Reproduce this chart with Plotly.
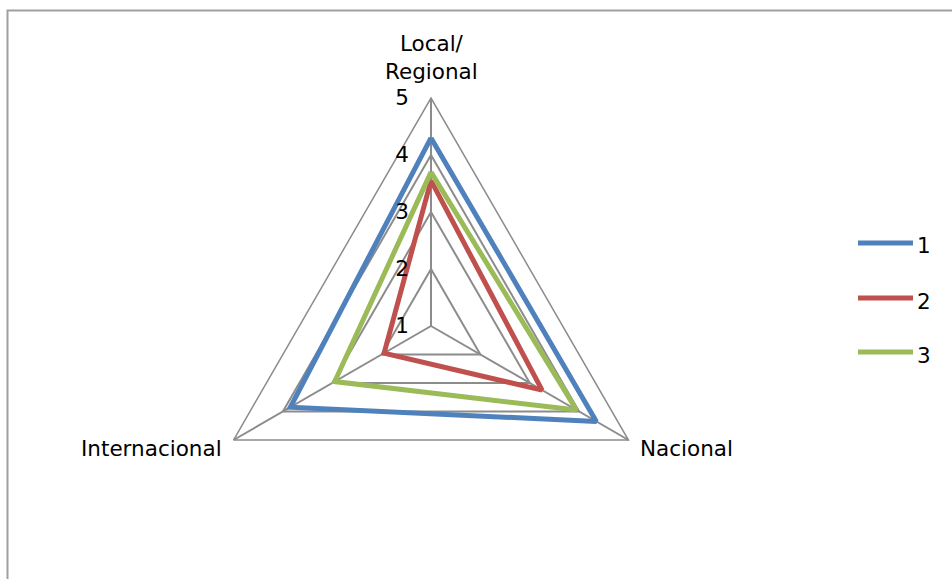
import plotly.graph_objects as go

# Axes of the radar (clockwise from the top)
categories = ["Local/<br>Regional", "Nacional", "Internacional"]

# Series values per axis
series_names = ["1", "2", "3"]
values_1 = [4.3, 4.35, 3.85]
values_2 = [3.55, 3.25, 1.95]
values_3 = [3.7, 3.95, 2.95]

radial_ticks = [1, 2, 3, 4, 5]

colors = ["#4F81BD", "#C0504D", "#9BBB59"]
grid_color = "#8C8C8C"
font_family = "DejaVu Sans"
fsize = 21.5

W, H = 952, 579

fig = go.Figure()
for name, vals, col in zip(series_names, [values_1, values_2, values_3], colors):
    fig.add_trace(go.Scatterpolar(
        r=vals + vals[:1],
        theta=categories + categories[:1],
        mode="lines",
        name=name,
        line=dict(color=col, width=5),
        showlegend=False,
        hoverinfo="skip",
    ))

# Polar area: centre at (431, 326) px, outer radius 228 px
cx, cy, rad = 431, 326, 228
fig.update_layout(
    width=W, height=H,
    margin=dict(l=0, r=0, t=0, b=0),
    paper_bgcolor="white",
    plot_bgcolor="white",
    font=dict(family=font_family, size=fsize, color="black"),
    polar=dict(
        domain=dict(x=[(cx - rad) / W, (cx + rad) / W],
                    y=[(H - cy - rad) / H, (H - cy + rad) / H]),
        bgcolor="white",
        gridshape="linear",
        radialaxis=dict(
            range=[1, 5],
            tickvals=radial_ticks,
            ticktext=[str(t) for t in radial_ticks],
            angle=90,
            side="counterclockwise",
            tickangle=90,
            showline=False,
            gridcolor=grid_color,
            gridwidth=1.5,
            ticks="outside",
            ticklen=14,
            tickcolor="rgba(0,0,0,0)",
            tickfont=dict(family=font_family, size=fsize, color="black"),
        ),
        angularaxis=dict(
            categoryorder="array",
            categoryarray=categories,
            rotation=90,
            direction="clockwise",
            showline=True,
            linecolor=grid_color,
            linewidth=1.5,
            gridcolor=grid_color,
            gridwidth=1.5,
            ticks="",
            showticklabels=False,
        ),
    ),
)

# Category labels placed just outside each vertex
label_pos = {
    "Local/<br>Regional": dict(x=431, y=58, xanchor="center"),
    "Nacional": dict(x=638, y=448, xanchor="left"),
    "Internacional": dict(x=224, y=448, xanchor="right"),
}
for cat in categories:
    p = label_pos[cat]
    fig.add_annotation(x=p["x"] / W, y=1 - p["y"] / H, xref="paper", yref="paper",
                       text=cat, showarrow=False, xanchor=p["xanchor"], yanchor="middle",
                       font=dict(family=font_family, size=fsize, color="black"))

# Chart frame (left and top edges visible)
fig.add_shape(type="rect", xref="paper", yref="paper",
              x0=7.5 / W, x1=1.05, y0=-0.05, y1=1 - 10.5 / H,
              line=dict(color="#A0A0A0", width=2), fillcolor="rgba(0,0,0,0)",
              layer="below")

# Legend entries
leg_x0, leg_x1 = 858, 913
leg_y = [243, 298, 352]
for name, col, y in zip(series_names, colors, leg_y):
    fig.add_shape(type="line", xref="paper", yref="paper",
                  x0=leg_x0 / W, x1=leg_x1 / W, y0=1 - y / H, y1=1 - y / H,
                  line=dict(color=col, width=5))
    fig.add_annotation(x=(leg_x1 + 2) / W, y=1 - (y + 3) / H, xref="paper", yref="paper",
                       text=name, showarrow=False, xanchor="left", yanchor="middle",
                       font=dict(family=font_family, size=fsize, color="black"))

fig.write_html("out.html")
